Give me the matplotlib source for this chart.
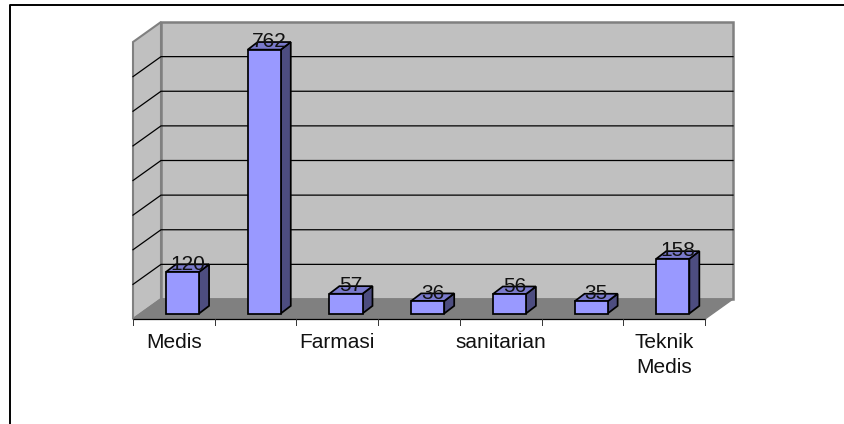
import matplotlib
matplotlib.use("Agg")
import matplotlib.pyplot as plt
from matplotlib.patches import Polygon

plt.rcParams["font.family"] = ["Liberation Sans", "DejaVu Sans"]

# --- data ---
tick_labels = ["Medis", "", "Farmasi", "", "sanitarian", "", "Teknik\nMedis"]
values = [120, 762, 57, 36, 56, 35, 158]
y_ticks = [0, 100, 200, 300, 400, 500, 600, 700, 800]

W, H = 844, 424
fig = plt.figure(figsize=(W / 100, H / 100), dpi=100, facecolor="white")

# front plane of the fake 3d box, pixels converted to figure fractions
left, right, bottom, top = 133, 705, 319, 42
ax = fig.add_axes([left / W, 1 - bottom / H, (right - left) / W, (bottom - top) / H])
ax.set_xlim(0, len(values))
ax.set_ylim(0, 800)
ax.axis("off")

# depth of the box in data units
dx = 28 / ((right - left) / len(values))
dy = 20 / ((bottom - top) / 800)

n = len(values)
ymax = y_ticks[-1]

# walls and floor
ax.add_patch(Polygon([(0, 0), (dx, dy), (dx, ymax + dy), (0, ymax)], fc="#c0c0c0", ec="#808080", lw=1.5, clip_on=False))
ax.add_patch(Polygon([(dx, dy), (n + dx, dy), (n + dx, ymax + dy), (dx, ymax + dy)], fc="#c0c0c0", ec="#808080", lw=1.8, clip_on=False))
ax.add_patch(Polygon([(0, 0), (n, 0), (n + dx, dy), (dx, dy)], fc="#808080", ec="#808080", lw=1, clip_on=False))

# gridlines on side wall and back wall
for v in y_ticks[1:-1]:
    ax.plot([0, dx, n + dx], [v, v + dy, v + dy], color="black", lw=0.9, clip_on=False, zorder=2)

# bars
width = 0.405
depth_start = 0.275
bar_dx = 0.122
bar_dy = 22
for i, v in enumerate(values):
    x0 = i + 0.5 - width / 2 + dx * depth_start + 0.012
    x1 = x0 + width
    y0 = dy * depth_start
    y1 = y0 + v
    ax.add_patch(Polygon([(x1, y0), (x1 + bar_dx, y0 + bar_dy), (x1 + bar_dx, y1 + bar_dy), (x1, y1)],
                         fc="#4d4d80", ec="black", lw=1.25, zorder=3, clip_on=False))
    ax.add_patch(Polygon([(x0, y1), (x1, y1), (x1 + bar_dx, y1 + bar_dy), (x0 + bar_dx, y1 + bar_dy)],
                         fc="#7a7acc", ec="black", lw=1.25, zorder=3, clip_on=False))
    ax.add_patch(Polygon([(x0, y0), (x1, y0), (x1, y1), (x0, y1)],
                         fc="#9999ff", ec="black", lw=1.25, zorder=4, clip_on=False))
    ax.text(x0 + (width + bar_dx) / 2, y1 + 7, str(v), ha="center", va="baseline", fontsize=15,
            color="#111111", zorder=5, clip_on=False)

# x axis line, ticks and labels
ax.plot([0, n], [0, 0], color="black", lw=0.9, clip_on=False, zorder=3)
for i in range(n + 1):
    ax.plot([i, i], [0, -16], color="#333333", lw=0.7, clip_on=False, zorder=3)
for i, lab in enumerate(tick_labels):
    ax.text(i + 0.5, -39, lab, ha="center", va="top", fontsize=15, color="#111111", linespacing=1.45, clip_on=False)

# outer frame of the embedded chart, open on the right
fig.add_artist(plt.Line2D([10 / W, 10 / W, 1], [0, 1 - 5 / H, 1 - 5 / H], color="black", lw=1.4))

fig.savefig("out.png", dpi=100)
